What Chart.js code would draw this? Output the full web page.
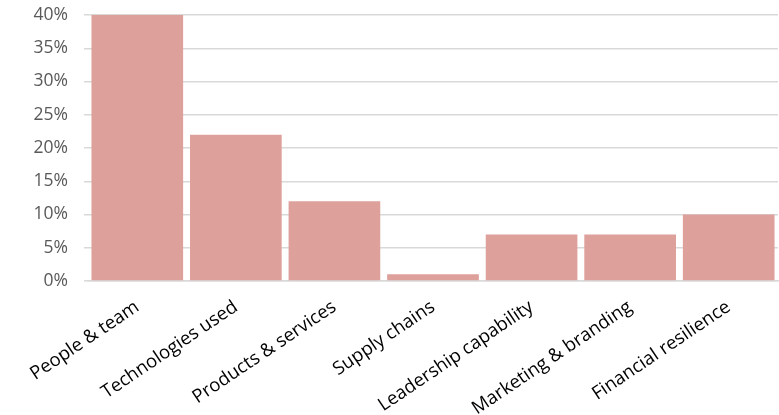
<!DOCTYPE html>
<html><head><meta charset="utf-8">
<script src="https://cdn.jsdelivr.net/npm/chart.js@4/dist/chart.umd.min.js"></script>
<style>html,body{margin:0;padding:0;background:#fff}#wrap{width:779px;height:415px}</style>
</head><body><div id="wrap"><canvas id="c"></canvas></div>
<script>
const categories = ["People & team","Technologies used","Products & services","Supply chains","Leadership capability","Marketing & branding","Financial resilience"];
const values = [40, 22, 12, 1, 7, 7, 10];
const yTicks = [0,5,10,15,20,25,30,35,40];

new Chart(document.getElementById('c'), {
  type: 'bar',
  data: { labels: categories, datasets: [{ data: values, backgroundColor: '#DEA09B', barPercentage: 0.93, categoryPercentage: 1 }] },
  options: {
    responsive: true, maintainAspectRatio: false, animation: false,
    layout: { padding: { top: 15, right: 1, left: 0, bottom: 0 } },
    plugins: { legend: { display: false }, tooltip: { enabled: false } },
    scales: {
      y: {
        min: 0, max: 40,
        afterBuildTicks: s => { s.ticks = yTicks.map(v => ({ value: v })); },
        afterFit: s => { s.width = 88; s.paddingTop = 0; s.paddingBottom = 0; },
        grid: { color: '#D9D9D9', lineWidth: 1.5, drawTicks: true, tickLength: 4, tickColor: '#D9D9D9' },
        border: { display: false },
        ticks: { color: '#595959', font: { family: 'Open Sans', size: 17.5 }, padding: 16, callback: v => v + '%' }
      },
      x: {
        afterFit: s => { s.height = 134; s.paddingLeft = 0; s.paddingRight = 0; },
        grid: { display: false },
        border: { display: true, color: '#D9D9D9', width: 1.5 },
        ticks: { color: '#000', font: { family: 'Open Sans', size: 18.5 }, minRotation: 34, maxRotation: 34, padding: 7 }
      }
    }
  }
});
</script></body></html>
